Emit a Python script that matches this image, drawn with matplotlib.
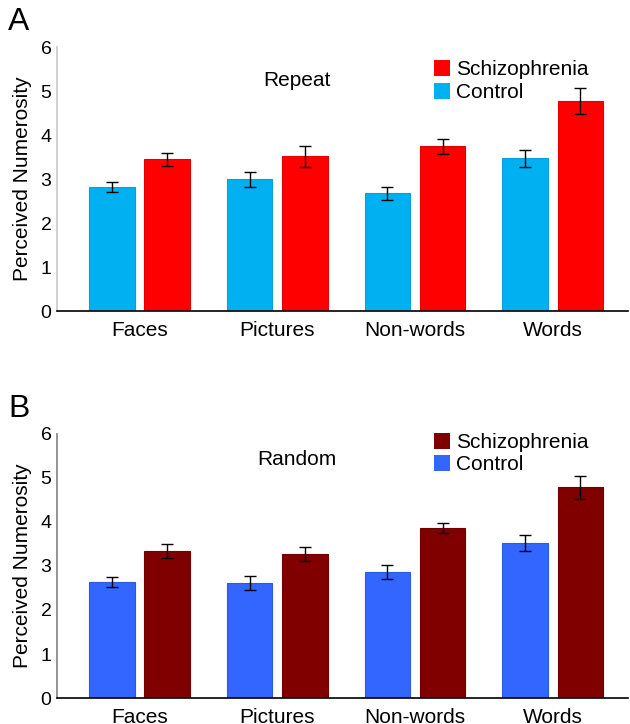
import numpy as np
import matplotlib
matplotlib.use("Agg")
import matplotlib.pyplot as plt
from matplotlib.patches import Patch

plt.rcParams['font.family'] = ['Liberation Sans', 'DejaVu Sans']

categories = ["Faces", "Pictures", "Non-words", "Words"]

# panel A: Repeat
rep_control = [2.82, 3.00, 2.68, 3.47]
rep_control_err = [0.11, 0.17, 0.15, 0.19]
rep_schiz = [3.45, 3.52, 3.75, 4.77]
rep_schiz_err = [0.15, 0.24, 0.17, 0.29]

# panel B: Random
rnd_control = [2.64, 2.61, 2.86, 3.52]
rnd_control_err = [0.11, 0.16, 0.16, 0.18]
rnd_schiz = [3.34, 3.27, 3.86, 4.79]
rnd_schiz_err = [0.16, 0.16, 0.12, 0.26]

fig = plt.figure(figsize=(6.3, 7.24), dpi=100)
axA = fig.add_axes([0.0905, 0.5704, 0.907, 0.3646])
axB = fig.add_axes([0.0905, 0.0359, 0.907, 0.3647])

x = np.arange(1, 5)
w = 0.33
off = 0.2


def panel(ax, ctrl, ctrl_e, sz, sz_e, c_col, s_col, c_edge, s_edge, title, ty, leg_y, spine_col):
    ax.bar(x - off, ctrl, w, color=c_col, edgecolor=c_edge, linewidth=0.8)
    ax.bar(x + off, sz, w, color=s_col, edgecolor=s_edge, linewidth=0.8)
    ax.errorbar(x - off, ctrl, yerr=ctrl_e, fmt='none', ecolor='black', elinewidth=1, capsize=4, capthick=1)
    ax.errorbar(x + off, sz, yerr=sz_e, fmt='none', ecolor='black', elinewidth=1, capsize=4, capthick=1)
    ax.set_xlim(0.40, 4.55)
    ax.set_ylim(0, 6)
    ax.set_yticks(range(7))
    ax.set_xticks(x)
    ax.set_xticklabels(categories, fontsize=15)
    ax.tick_params(axis='y', length=0, labelsize=14, pad=4)
    ax.tick_params(axis='x', length=0, pad=7)
    ax.set_ylabel("Perceived Numerosity", fontsize=15, labelpad=6)
    for s in ['top', 'right']:
        ax.spines[s].set_visible(False)
    ax.spines['left'].set_color(spine_col)
    ax.spines['left'].set_linewidth(1.2)
    ax.spines['bottom'].set_color('black')
    ax.spines['bottom'].set_linewidth(1.2)
    ax.text(0.42, ty, title, transform=ax.transAxes, ha='center', va='center', fontsize=15)
    handles = [Patch(facecolor=s_col, edgecolor='none', label="Schizophrenia"),
               Patch(facecolor=c_col, edgecolor='none', label="Control")]
    ax.legend(handles=handles, loc='upper left', bbox_to_anchor=(0.659, leg_y), frameon=False,
              fontsize=15, handlelength=0.8, handleheight=0.8, handletextpad=0.3,
              labelspacing=0.15, borderpad=0, borderaxespad=0)


panel(axA, rep_control, rep_control_err, rep_schiz, rep_schiz_err,
      '#00b0f0', '#ff0000', '#0a9fd8', '#e00000', "Repeat", 0.875, 0.95, '#c8c8c8')
panel(axB, rnd_control, rnd_control_err, rnd_schiz, rnd_schiz_err,
      '#3366ff', '#800000', '#2b5ae0', '#700000', "Random", 0.905, 1.005, '#808080')

fig.text(0.013, 0.97, "A", fontsize=23, ha='left', va='center')
fig.text(0.013, 0.435, "B", fontsize=23, ha='left', va='center')

fig.savefig("out.png", dpi=100)
